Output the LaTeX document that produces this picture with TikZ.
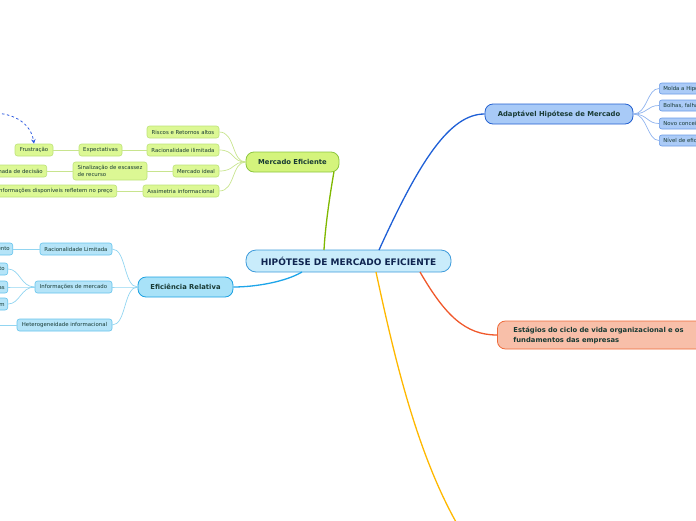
\documentclass[tikz,border=0pt]{standalone}
\usepackage{fontspec}
\setmainfont{DejaVu Sans}
\usetikzlibrary{arrows.meta}
\definecolor{txt}{HTML}{183A34}
\definecolor{ctxt}{HTML}{0F2550}
\definecolor{cfill}{HTML}{C9ECFB}
\definecolor{cdraw}{HTML}{3D9BDB}
\definecolor{gfill}{HTML}{D4F47C}
\definecolor{gdraw}{HTML}{8DC63F}
\definecolor{gsfill}{HTML}{DCF894}
\definecolor{gsdraw}{HTML}{BDE279}
\definecolor{glinec}{HTML}{C8E48E}
\definecolor{gmain}{HTML}{7FB800}
\definecolor{bfill}{HTML}{A8CAF7}
\definecolor{bdraw}{HTML}{2360D0}
\definecolor{bsfill}{HTML}{ABCBF7}
\definecolor{bsdraw}{HTML}{6C9BE6}
\definecolor{blinec}{HTML}{8FB3EE}
\definecolor{bmain}{HTML}{1E5FD6}
\definecolor{lfill}{HTML}{A8E2F8}
\definecolor{ldraw}{HTML}{1BA1E2}
\definecolor{lsfill}{HTML}{B5E4F8}
\definecolor{lsdraw}{HTML}{66C3EC}
\definecolor{llinec}{HTML}{92D5F1}
\definecolor{lmain}{HTML}{1EA5E9}
\definecolor{ofill}{HTML}{F8BFA9}
\definecolor{odraw}{HTML}{EE6A3A}
\definecolor{omain}{HTML}{F0582B}
\definecolor{ymain}{HTML}{FFB800}
\definecolor{dashcol}{HTML}{2E5BE0}
\tikzset{
  smallbox/.style={rounded corners=2.5pt, inner ysep=0pt, inner xsep=4pt, minimum height=12pt,
    font=\fontsize{5.4}{7.5}\selectfont, text=txt, line width=0.6pt},
  gsmall/.style={smallbox, fill=gsfill, draw=gsdraw},
  bsmall/.style={smallbox, fill=bsfill, draw=bsdraw, minimum height=11pt},
  lsmall/.style={smallbox, fill=lsfill, draw=lsdraw},
  midbox/.style={rounded corners=8pt, inner sep=0pt, minimum height=20pt,
    font=\fontsize{6.8}{10}\bfseries\selectfont, text=txt, line width=0.8pt},
  gline/.style={draw=glinec, line width=0.7pt},
  bline/.style={draw=blinec, line width=0.7pt},
  lline/.style={draw=llinec, line width=0.7pt},
  mainline/.style={line width=1.3pt},
}
\begin{document}
\begin{tikzpicture}[x=1pt,y=-1pt]
\useasboundingbox (0,0) rectangle (696,520);
\clip (0,0) rectangle (696,520);

% central
\node[rounded corners=10pt, fill=cfill, draw=cdraw, line width=0.8pt, minimum width=205pt,
  minimum height=22pt, inner sep=0pt, font=\fontsize{9}{10}\bfseries\selectfont, text=ctxt]
  (c) at (348.5,261) {HIPÓTESE DE MERCADO EFICIENTE};

% first level
\node[midbox, fill=gfill, draw=gdraw, minimum width=93pt] (me) at (292.5,162) {Mercado Eficiente};
\node[midbox, fill=bfill, draw=bdraw, minimum width=148pt] (ad) at (559,114) {Adaptável Hipótese de Mercado};
\node[midbox, fill=lfill, draw=ldraw, minimum width=95pt] (er) at (185.5,287) {Eficiência Relativa};
\node[midbox, fill=ofill, draw=odraw, minimum height=28pt, text width=180pt, align=left,
  inner xsep=16pt, anchor=west, font=\fontsize{6.8}{10}\bfseries\selectfont] (es) at (497,335)
  {Estágios do ciclo de vida organizacional e os\\fundamentos das empresas};
\coordinate (yend) at (470,545);

% main connectors
\draw[mainline, draw=gmain] (334,171.5) .. controls (329,200) and (325,230) .. (324,250);
\draw[mainline, draw=bmain] (379,250) .. controls (420,160) and (450,114) .. (ad.west);
\draw[mainline, draw=lmain] (302,272) .. controls (285,282) and (255,287) .. (er.east);
\draw[mainline, draw=omain] (420,272) .. controls (445,315) and (465,335) .. (es.west);
\draw[mainline, draw=ymain] (376,272) .. controls (395,360) and (420,470) .. (yend);

% Mercado Eficiente children
\node[gsmall, minimum width=72pt] (rr) at (183,132) {Riscos e Retornos altos};
\node[gsmall, minimum width=72pt] (ri) at (183,150) {Racionalidade ilimitada};
\node[gsmall, minimum width=46pt] (mi) at (196,171) {Mercado ideal};
\node[gsmall, minimum width=76pt] (ai) at (181,191) {Assimetria informacional};
\node[gsmall, minimum width=43pt] (ex) at (100.5,150) {Expectativas};
\node[gsmall, minimum width=38pt] (fr) at (34,150) {Frustração};
\node[gsmall, minimum height=18pt, minimum width=74pt, align=left] (si) at (110,171)
  {Sinalização de escassez\\de recurso};
\node[gsmall, anchor=east] (td) at (47,171) {Tomada de decisão};
\node[gsmall, anchor=east] (ip) at (117,191) {Informações disponíveis refletem no preço};

\foreach \n in {rr,ri,mi,ai}
  \draw[gline] (\n.east) .. controls +(16,0) and +(-14,0) .. (me.west);
\draw[gline] (ri.west) -- (ex.east);
\draw[gline] (ex.west) -- (fr.east);
\draw[gline] (mi.west) -- (si.east);
\draw[gline] (si.west) -- (td.east);
\draw[gline] (ai.west) -- (ip.east);

% dashed arrow
\coordinate (ds) at (-8,113);
\draw[draw=dashcol, line width=0.8pt, dash pattern=on 2.5pt off 2.5pt, -{Stealth[length=4.5pt,width=4.5pt]}]
  (ds) .. controls (15,113) and (31,124) .. (fr.north);

% Adaptavel children
\node[bsmall, anchor=west] (a1) at (659,88.5) {Molda a Hipótese de Mercado};
\node[bsmall, anchor=west] (a2) at (659,105.5) {Bolhas, falhas e crises};
\node[bsmall, anchor=west] (a3) at (659,123.5) {Novo conceito de eficiência};
\node[bsmall, anchor=west] (a4) at (659,140.5) {Nível de eficiência variável};
\foreach \n in {a1,a2,a3,a4}
  \draw[bline] (ad.east) .. controls +(14,0) and +(-12,0) .. (\n.west);

% Eficiencia Relativa children
\node[lsmall, minimum width=72pt] (rl) at (76,249) {Racionalidade Limitada};
\node[lsmall, minimum width=77pt] (im) at (73.5,287) {Informações de mercado};
\node[lsmall, minimum width=95pt] (hi) at (64.5,325) {Heterogeneidade informacional};
\foreach \n in {rl,im,hi}
  \draw[lline] (er.west) .. controls +(-14,0) and +(14,0) .. (\n.east);
\node[lsmall, anchor=east, inner xsep=3pt] (cp) at (13,249) {Comportamento};
\node[lsmall, anchor=east, inner xsep=3pt] (n1) at (8,269) {Preço justo};
\node[lsmall, anchor=east, inner xsep=3pt] (n2) at (8,287) {Notícias};
\node[lsmall, anchor=east, inner xsep=3pt] (n3) at (8,304) {Ordem};
\coordinate (hc) at (-8,325);
\draw[lline] (rl.west) -- (cp.east);
\foreach \n in {n1,n2,n3}
  \draw[lline] (im.west) .. controls +(-14,0) and +(12,0) .. (\n.east);
\draw[lline] (hi.west) -- (hc);
\end{tikzpicture}
\end{document}
